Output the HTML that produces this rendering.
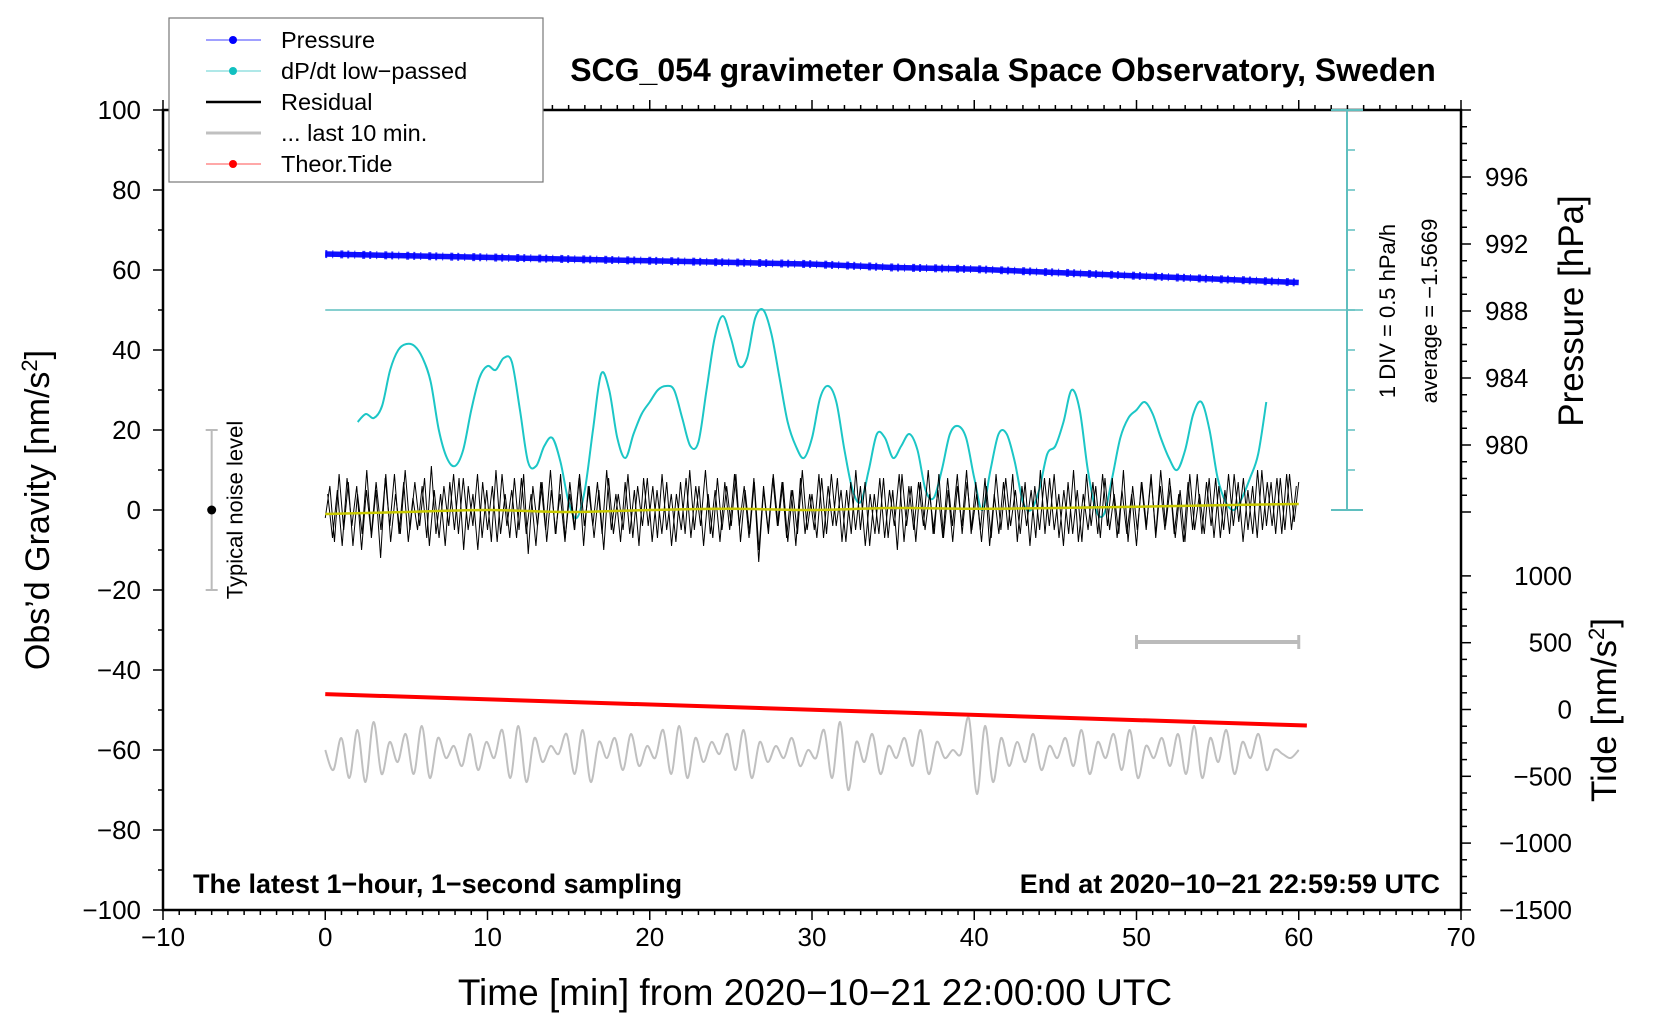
<!DOCTYPE html>
<html><head><meta charset="utf-8"><style>
body{margin:0;background:#fff}
svg text{font-family:"Liberation Sans",sans-serif}
</style></head><body>
<svg id="c" width="1660" height="1020" xmlns="http://www.w3.org/2000/svg"></svg>
<script>
// ---- data ----
const xTicks=[-10,0,10,20,30,40,50,60,70];
const yTicks=[100,80,60,40,20,0,-20,-40,-60,-80,-100];
const pTicks=[996,992,988,984,980];
const tideTicks=[1000,500,0,-500,-1000,-1500];
const pressureTimes=[0,5,10,15,20,25,30,35,40,45,50,55,60];
const pressureValues=[991.4,991.3,991.2,991.1,991.0,990.9,990.8,990.6,990.5,990.3,990.1,989.9,989.7];
const dpdtTimes=[2,2.5,3,3.5,4,4.5,5,5.5,6,6.5,7,7.5,8,8.5,9,9.5,10,10.5,11,11.5,12,12.5,13,13.5,14,14.5,15,15.5,16,16.5,17,17.5,18,18.5,19,19.5,20,20.5,21,21.5,22,22.5,23,23.5,24,24.5,25,25.5,26,26.5,27,27.5,28,28.5,29,29.5,30,30.5,31,31.5,32,32.5,33,33.5,34,34.5,35,35.5,36,36.5,37,37.5,38,38.5,39,39.5,40,40.5,41,41.5,42,42.5,43,43.5,44,44.5,45,45.5,46,46.5,47,47.5,48,48.5,49,49.5,50,50.5,51,51.5,52,52.5,53,53.5,54,54.5,55,55.5,56,56.5,57,57.5,58];
const dpdtValues=[22,24,23,26,35,40,41.5,41,38,32,20,13,11,15,25,33,36,35,38,37,25,12,11,16,18,12,2,-2,5,20,34,30,18,13,19,24,27,30,31,30,23,16,17,30,43,48.5,43,36,38,48,50,44,33,22,16,13,18,28,31,27,15,5,2,10,19,18,13,16,19,15,5,3,10,19,21,18,8,0,10,19,19,12,2,0,5,14,16,22,30,25,10,0,-1,8,18,23,25,27,24,18,13,10,15,24,27,20,8,2,0,3,8,14,27];
const residualValues=[-2,6,-8,9,-5,7,-9,4,-6,10,-7,5,-12,8,-4,9,-6,7,-8,3,-5,6,-7,11,-6,4,-9,7,-5,8,-10,6,-4,9,-7,5,-8,10,-6,4,-7,8,-5,9,-11,6,-4,7,-8,5,-6,9,-7,4,-5,8,-9,6,-4,7,-6,10,-5,4,-8,7,-6,5,-9,8,-4,6,-7,9,-5,4,-8,7,-6,10,-5,6,-9,4,-7,8,-5,6,-4,9,-8,5,-6,7,-10,6,-5,8,-4,7,-7,5,-9,8,-6,4,-5,9,-7,6,-4,8,-8,5,-6,10,-5,7,-9,4,-6,8,-7,5,-10,9,-4,6,-8,7,-5,4,-6,9,-7,5,-8,6,-4,10,-6,7,-5,8,-9,4,-6,7,-5,9,-8,6,-4,5,-7,10,-6,8,-5,4,-9,7,-6,5,-8,9,-4,6,-7,8,-5,4,-6,10,-8,6,-5,7,-4,9,-7,6,-5,8,-6,4,-8,7,-5,9,-6,7,-4,8,-7,5,-6,9,-3,8,-5,6,-7,10,-4,7,-6,8,-5,9,-3,7];
const residualValues2=[4,-7,5,-9,8,-4,6,-10,5,-6,7,-5,9,-8,4,-6,10,-5,7,-4,8,-9,5,-7,6,-4,9,-6,8,-5,4,-10,7,-5,6,-8,9,-4,5,-7,8,-6,4,-9,7,-5,10,-6,4,-8,7,-5,9,-4,6,-7,5,-10,8,-6,4,-5,9,-7,6,-4,8,-8,5,-6,7,-9,4,-5,8,-7,6,-4,10,-6,5,-8,7,-5,9,-4,6,-7,8,-13,5,-6,9,-4,7,-8,5,-6,10,-5,4,-7,8,-6,9,-4,5,-8,7,-5,6,-9,4,-6,8,-7,5,-4,9,-8,6,-5,7,-4,10,-6,5,-7,8,-4,9,-6,7,-5,4,-8,6,-7,9,-5,8,-4,5,-6,7,-9,6,-5,8,-4,9,-7,5,-6,10,-8,4,-5,7,-6,9,-4,8,-7,5,-6,4,-9,7,-5,8,-6,10,-4,6,-7,5,-8,9,-5,4,-6,8,-7,6,-5,9,-4,7,-8,5,-6,10,-5,7,-4,8,-6,9,-5,6];
const smoothTimes=[0,5,10,15,20,25,30,35,40,45,50,55,60];
const smoothValues=[-1,-0.5,0,-0.5,0,0.3,0,0.5,0.3,0.5,0.8,1.2,1.5];
const grayValues=[-60,-65,-57,-67,-55,-68,-53,-66,-58,-63,-56,-66,-54,-67,-57,-62,-59,-64,-56,-65,-58,-62,-55,-67,-54,-68,-57,-63,-59,-61,-56,-66,-55,-68,-58,-62,-57,-65,-56,-64,-59,-62,-55,-66,-54,-67,-57,-63,-58,-61,-56,-65,-55,-67,-58,-63,-59,-62,-57,-64,-60,-62,-55,-67,-53,-70,-58,-63,-56,-66,-59,-62,-57,-64,-55,-66,-58,-62,-60,-61,-52,-71,-54,-68,-57,-64,-58,-63,-56,-65,-59,-62,-57,-64,-55,-66,-58,-62,-56,-65,-55,-67,-59,-62,-57,-64,-56,-66,-54,-67,-57,-63,-55,-66,-58,-62,-56,-65,-60,-61,-62,-60];
const tideTimes=[0,60];
const tideValues=[115,-120];
// ---- layout ----
const L=163,R=1461,T=110,B=910;
const sx=v=>L+(v+10)/80*(R-L);
const sy=v=>T+(100-v)/200*(B-T);
const sp=v=>445-(v-980)*16.75;
const tideZero=709.5, tidePx=66.8/500;
const st=v=>tideZero-v*tidePx;
const svg=document.getElementById('c');
const NS='http://www.w3.org/2000/svg';
function mk(tag,attrs,parent){const e=document.createElementNS(NS,tag);for(const k in attrs)e.setAttribute(k,attrs[k]);(parent||svg).appendChild(e);return e;}
function txt(s,x,y,attrs){const e=mk('text',Object.assign({x:x,y:y,'font-size':26,fill:'#000'},attrs||{}));e.textContent=s;return e;}
function smoothPath(pts){let d='M'+pts[0][0]+','+pts[0][1];for(let i=0;i<pts.length-1;i++){const p0=pts[Math.max(0,i-1)],p1=pts[i],p2=pts[i+1],p3=pts[Math.min(pts.length-1,i+2)];d+=' C'+(p1[0]+(p2[0]-p0[0])/6)+','+(p1[1]+(p2[1]-p0[1])/6)+' '+(p2[0]-(p3[0]-p1[0])/6)+','+(p2[1]-(p3[1]-p1[1])/6)+' '+p2[0]+','+p2[1];}return d;}

// frame
const frame=mk('rect',{x:L,y:T,width:R-L,height:B-T,fill:'none',stroke:'#000','stroke-width':2.5});

for(let v=-10;v<=70;v++){const x=sx(v),len=v%10===0?10:5;
 mk('line',{x1:x,y1:B,x2:x,y2:B+len,stroke:'#000','stroke-width':1.5});
 mk('line',{x1:x,y1:T,x2:x,y2:T-len,stroke:'#000','stroke-width':1.5});}
xTicks.forEach(v=>{const t=txt(String(v).replace('-','\u2212'),sx(v),B+36,{'text-anchor':'middle'});});
for(let v=-100;v<=100;v+=10){const y=sy(v),len=v%20===0?10:5;mk('line',{x1:L,y1:y,x2:L-len,y2:y,stroke:'#000','stroke-width':1.5});}
yTicks.forEach(v=>{const t=txt(String(v).replace('-','\u2212'),L-22,sy(v)+9,{'text-anchor':'end'});});
for(let v=976;v<=1000;v++){const y=sp(v);if(y<T||y>sp(976))continue;const len=v%4===0?10:6;mk('line',{x1:R,y1:y,x2:R+len,y2:y,stroke:'#000','stroke-width':1.5});}
pTicks.forEach(v=>{const t=txt(String(v),R+24,sp(v)+9);});
for(let v=-1500;v<=1000;v+=125){const y=st(v);const len=v%500===0?10:6;mk('line',{x1:R,y1:y,x2:R+len,y2:y,stroke:'#000','stroke-width':1.5});}
tideTicks.forEach(v=>{const t=txt(String(v).replace('-','\u2212'),R+111,st(v)+9,{'text-anchor':'end'});});

// titles
let e=txt('SCG_054 gravimeter Onsala Space Observatory, Sweden',1003,81,{'text-anchor':'middle','font-size':32,'font-weight':'bold'});
e=txt('Time [min] from 2020\u221210\u221221 22:00:00 UTC',815,1005,{'text-anchor':'middle','font-size':37});
e=mk('text',{x:0,y:0,'font-size':34,'text-anchor':'middle',transform:'translate(49,510) rotate(-90)'});e.innerHTML='Obs\u2019d Gravity [nm/s<tspan dy="-12" font-size="22">2</tspan><tspan dy="12">]</tspan>';
e=txt('Pressure [hPa]',0,0,{'font-size':35,'text-anchor':'middle',transform:'translate(1583,311) rotate(-90)'});
e=mk('text',{x:0,y:0,'font-size':35,'text-anchor':'middle',transform:'translate(1616,710) rotate(-90)'});e.innerHTML='Tide [nm/s<tspan dy="-12" font-size="22">2</tspan><tspan dy="12">]</tspan>';
e=txt('1 DIV = 0.5 hPa/h',0,0,{'font-size':22,'text-anchor':'middle',transform:'translate(1395,311) rotate(-90)'});
e=txt('average = \u22121.5669',0,0,{'font-size':22,'text-anchor':'middle',transform:'translate(1437,311) rotate(-90)'});
e=txt('The latest 1\u2212hour, 1\u2212second sampling',193,893,{'font-size':27,'font-weight':'bold'});
e=txt('End at 2020\u221210\u221221 22:59:59 UTC',1440,893,{'font-size':27,'font-weight':'bold','text-anchor':'end'});

// dP/dt scale
const cy='#5fbfbf';
mk('line',{x1:1347,y1:T,x2:1347,y2:sy(0),stroke:cy,'stroke-width':2});
mk('line',{x1:1331,y1:T,x2:1363,y2:T,stroke:cy,'stroke-width':2});
mk('line',{x1:1331,y1:sy(0),x2:1363,y2:sy(0),stroke:cy,'stroke-width':2});
for(let v=10;v<100;v+=10)mk('line',{x1:1347,y1:sy(v),x2:1355,y2:sy(v),stroke:cy,'stroke-width':1.5});
e=mk('line',{x1:sx(0),y1:sy(50),x2:1363,y2:sy(50),stroke:cy,'stroke-width':1.5});

// noise indicator
mk('line',{x1:sx(-7),y1:sy(20),x2:sx(-7),y2:sy(-20),stroke:'#bbb','stroke-width':2});
mk('line',{x1:sx(-7)-6,y1:sy(20),x2:sx(-7)+6,y2:sy(20),stroke:'#bbb','stroke-width':2});
mk('line',{x1:sx(-7)-6,y1:sy(-20),x2:sx(-7)+6,y2:sy(-20),stroke:'#bbb','stroke-width':2});
e=mk('circle',{cx:sx(-7),cy:sy(0),r:4.5,fill:'#000'});
e=txt('Typical noise level',0,0,{'font-size':22,'text-anchor':'middle',transform:'translate('+(sx(-7)+31)+','+sy(0)+') rotate(-90)'});
const gb=sy(-33);
mk('line',{x1:sx(50),y1:gb,x2:sx(60),y2:gb,stroke:'#bbb','stroke-width':4});
mk('line',{x1:sx(50),y1:gb-7,x2:sx(50),y2:gb+7,stroke:'#bbb','stroke-width':3});
mk('line',{x1:sx(60),y1:gb-7,x2:sx(60),y2:gb+7,stroke:'#bbb','stroke-width':3});

// pressure series
let pd='';
for(let i=0;i<pressureTimes.length;i++){pd+=(i?' L':'M')+sx(pressureTimes[i])+','+sp(pressureValues[i]);}
e=mk('path',{d:pd,fill:'none',stroke:'#1010ff','stroke-width':5.5});
mk('path',{d:pd,fill:'none',stroke:'#0000ff','stroke-width':8,'stroke-dasharray':'2 5 1 7 3 4','opacity':0.8});

// dP/dt
e=mk('path',{d:smoothPath(dpdtTimes.map((t,i)=>[sx(t),sy(dpdtValues[i])])),fill:'none',stroke:'#1cc6c6','stroke-width':2});

// residual (two interleaved sample sets)
const rn=residualValues.length, rn2=residualValues2.length;
e=mk('polyline',{points:residualValues.map((v,i)=>sx(i*60/(rn-1))+','+sy(v)).join(' '),fill:'none',stroke:'#000','stroke-width':1});
e=mk('polyline',{points:residualValues2.map((v,i)=>sx((i+0.5)*60/(rn2))+','+sy(v)).join(' '),fill:'none',stroke:'#000','stroke-width':1});
e=mk('path',{d:smoothPath(smoothTimes.map((t,i)=>[sx(t),sy(smoothValues[i])])),fill:'none',stroke:'#c8c800','stroke-width':2.5});

// gray last 10 min
const gn=grayValues.length;
e=mk('path',{d:smoothPath(grayValues.map((v,i)=>[sx(i*60/(gn-1)),sy(v)])),fill:'none',stroke:'#c0c0c0','stroke-width':2});

// tide
e=mk('line',{x1:sx(tideTimes[0]),y1:st(tideValues[0]),x2:sx(tideTimes[1]+0.5),y2:st(tideValues[1]),stroke:'#ff0000','stroke-width':4});

// legend
const lg=mk('g',{});
mk('rect',{x:169,y:18,width:374,height:164,fill:'#fff',stroke:'#777','stroke-width':1.2},lg);
const items=[['Pressure','#4040ff',1,'#0000ff'],['dP/dt low\u2212passed','#5fd0d0',1,'#10c0c0'],['Residual','#000',2.5,null],['... last 10 min.','#c0c0c0',3,null],['Theor.Tide','#ff5050',1,'#ff0000']];
items.forEach((it,i)=>{const y=40+i*31;const g=mk('g',{},lg);
 mk('line',{x1:206,y1:y,x2:261,y2:y,stroke:it[1],'stroke-width':it[2]},g);
 if(it[3])mk('circle',{cx:233,cy:y,r:4,fill:it[3]},g);
 const t=txt(it[0],281,y+8,{'font-size':23.5});g.appendChild(t);});
</script>
</body></html>
